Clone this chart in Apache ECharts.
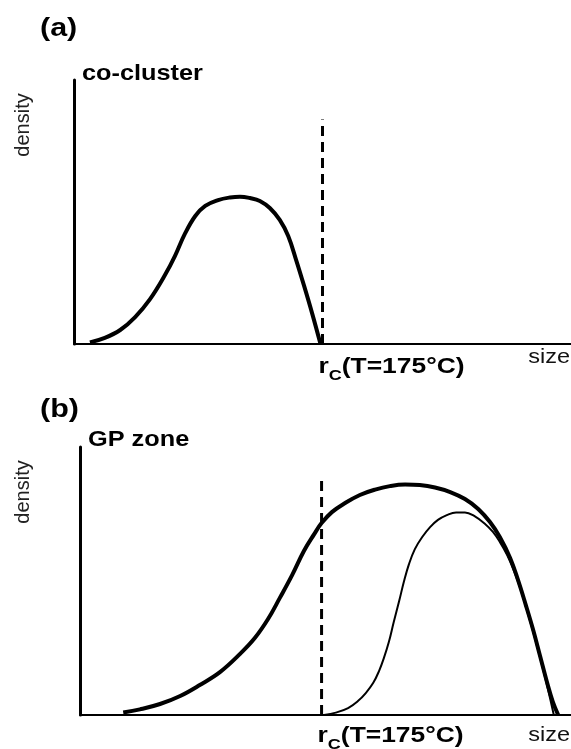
<!DOCTYPE html>
<html>
<head>
<meta charset="utf-8">
<script src="https://cdn.jsdelivr.net/npm/echarts@6/dist/echarts.min.js"></script>
<style>
html,body{margin:0;padding:0;background:#fff;}
#c{width:571px;height:749px;}
</style>
</head>
<body>
<div id="c"></div>
<script>
// ---- data (read from the reference schematic) ----
// panel (a): co-cluster size distribution
const sizeA    = [3.2, 6.2, 9.3, 12.3, 15.3, 18.3, 20.3, 22.3, 24.4, 26.4, 29.0, 31.4, 33.4, 35.4, 37.4, 39.4, 41.4, 43.1, 44.7, 46.3, 47.9, 49.6];
const densityA = [0.6, 2.3, 5.3, 10.2, 17.0, 26.1, 33.3, 41.7, 48.5, 52.3, 54.5, 55.5, 55.8, 55.3, 54.2, 51.5, 47.0, 40.9, 31.8, 22.0, 11.7, 0.0];
// panel (b): GP zone, broad distribution
const sizeBBroad    = [8.8, 12.2, 16.3, 20.4, 24.4, 28.5, 32.6, 35.6, 38.3, 40.7, 43.2, 45.6, 47.7, 49.2, 51.3, 54.0, 57.0, 60.1, 63.1, 66.2, 69.2, 72.3, 75.4, 78.4, 81.1, 83.5, 85.5, 87.6, 89.2, 90.8, 92.3, 93.7, 95.1, 96.3, 97.4];
const densityBBroad = [0.9, 2.1, 4.1, 7.1, 11.2, 16.0, 22.8, 28.7, 35.8, 43.7, 52.2, 61.2, 67.5, 71.6, 75.7, 79.1, 82.1, 84.1, 85.4, 86.0, 85.8, 84.9, 83.2, 80.6, 76.9, 72.0, 66.4, 58.6, 50.4, 41.0, 31.7, 22.0, 12.3, 4.9, 0.0];
// panel (b): narrow distribution above r_c
const sizeBNarrow    = [49.7, 52.1, 54.6, 56.6, 58.2, 59.7, 60.9, 61.9, 62.9, 63.9, 65.0, 66.0, 67.0, 68.2, 69.7, 71.3, 72.9, 74.7, 76.6, 78.4, 80.2, 82.5, 84.1, 85.5, 87.0, 88.4, 89.8, 91.2, 92.7, 94.1, 95.3, 96.5];
const densityBNarrow = [0.0, 0.9, 2.6, 5.2, 8.2, 11.9, 16.4, 21.3, 27.2, 34.7, 42.5, 50.0, 56.3, 61.9, 66.4, 70.1, 72.8, 74.6, 75.6, 75.6, 74.4, 71.3, 68.3, 64.6, 59.7, 53.7, 46.6, 38.1, 28.4, 18.7, 9.7, 0.0];
// critical radius position and dashed line height, per panel
const rcSize    = [50.0, 49.2];
const rcDashTop = [85, 88];
// texts
const panelLetters = ['(a)', '(b)'];
const panelTitles  = ['co-cluster', 'GP zone'];
const yTitle = 'density';
const xTitle = 'size';
const rcMain = 'r';
const rcSub  = 'C';
const rcCond = '(T=175°C)';

// ---- chart ----
const FONT = '"Liberation Sans", Arial, Helvetica, sans-serif';
const zip = (xs, ys) => xs.map((x, i) => [x, ys[i]]);
const chart = echarts.init(document.getElementById('c'), null, {renderer: 'canvas'});

function xAxisFor(g) {
  return {
    type: 'value', gridIndex: g, min: 0, max: 100,
    axisLine: {show: true, onZero: false, lineStyle: {color: '#000', width: 2}},
    axisTick: {show: false}, axisLabel: {show: false}, splitLine: {show: false}
  };
}
function yAxisFor(g) {
  return {
    type: 'value', gridIndex: g, min: 0, max: 100,
    axisLine: {show: true, onZero: false, lineStyle: {color: '#000', width: 3}},
    axisTick: {show: false}, axisLabel: {show: false}, splitLine: {show: false}
  };
}
function curve(g, xs, ys, w) {
  return {
    type: 'line', xAxisIndex: g, yAxisIndex: g, data: zip(xs, ys),
    smooth: 0.4, showSymbol: false, silent: true,
    lineStyle: {color: '#000', width: w, join: 'round'}
  };
}
function dashLine(g) {
  return {
    type: 'line', xAxisIndex: g, yAxisIndex: g,
    data: [[rcSize[g], 0], [rcSize[g], rcDashTop[g]]],
    showSymbol: false, silent: true,
    lineStyle: {color: '#000', width: 3, type: [10, 6]}
  };
}

chart.setOption({
  animation: false,
  backgroundColor: '#fff',
  grid: [
    {left: 74, top: 80, width: 497, height: 264},
    {left: 80, top: 447, width: 491, height: 268}
  ],
  xAxis: [xAxisFor(0), xAxisFor(1)],
  yAxis: [yAxisFor(0), yAxisFor(1)],
  series: [
    dashLine(0),
    curve(0, sizeA, densityA, 4),
    dashLine(1),
    curve(1, sizeBBroad, densityBBroad, 4),
    curve(1, sizeBNarrow, densityBNarrow, 2)
  ]
});

// ---- text annotations placed from the axes ----
const px = (g, v) => chart.convertToPixel({gridIndex: g}, v);
const letterY  = [29, 410];
const densityY = [125, 492];
const titleDY  = [-6, -7];
const rcDY     = [23, 21];
const sizeDY   = [13, 20];
const graphics = [];
[0, 1].forEach(g => {
  const topLeft = px(g, [0, 100]);
  const origin  = px(g, [0, 0]);
  const rcPt    = px(g, [rcSize[g], 0]);
  const endPt   = px(g, [100, 0]);
  graphics.push({
    type: 'text', x: 40, y: letterY[g], scaleX: 1.22, silent: true,
    style: {text: panelLetters[g], fill: '#000', font: 'bold 25px ' + FONT,
            align: 'left', verticalAlign: 'middle', textAlign: 'left', textVerticalAlign: 'middle'}
  });
  graphics.push({
    type: 'text', x: 23, y: densityY[g], rotation: Math.PI / 2, silent: true,
    style: {text: yTitle, fill: '#222', font: '20px ' + FONT,
            align: 'center', verticalAlign: 'middle', textAlign: 'center', textVerticalAlign: 'middle'}
  });
  graphics.push({
    type: 'text', x: topLeft[0] + 8, y: topLeft[1] + titleDY[g], scaleX: 1.15, silent: true,
    style: {text: panelTitles[g], fill: '#000', font: 'bold 22px ' + FONT,
            align: 'left', verticalAlign: 'middle', textAlign: 'left', textVerticalAlign: 'middle'}
  });
  graphics.push({
    type: 'text', x: rcPt[0] - 4, y: rcPt[1] + rcDY[g], scaleX: 1.2, silent: true,
    style: {
      text: '{m|' + rcMain + '}{s|' + rcSub + '}{m|' + rcCond + '}',
      align: 'left', verticalAlign: 'middle', textAlign: 'left', textVerticalAlign: 'middle',
      rich: {
        m: {fontSize: 22, fontWeight: 'bold', fontFamily: FONT, fill: '#000', color: '#000', lineHeight: 32, verticalAlign: 'middle'},
        s: {fontSize: 15, fontWeight: 'bold', fontFamily: FONT, fill: '#000', color: '#000', verticalAlign: 'bottom'}
      }
    }
  });
  graphics.push({
    type: 'text', x: endPt[0] - 1, y: origin[1] + sizeDY[g], scaleX: 1.12, silent: true,
    style: {text: xTitle, fill: '#111', font: '21px ' + FONT,
            align: 'right', verticalAlign: 'middle', textAlign: 'right', textVerticalAlign: 'middle'}
  });
});
chart.setOption({graphic: graphics});
</script>
</body>
</html>
